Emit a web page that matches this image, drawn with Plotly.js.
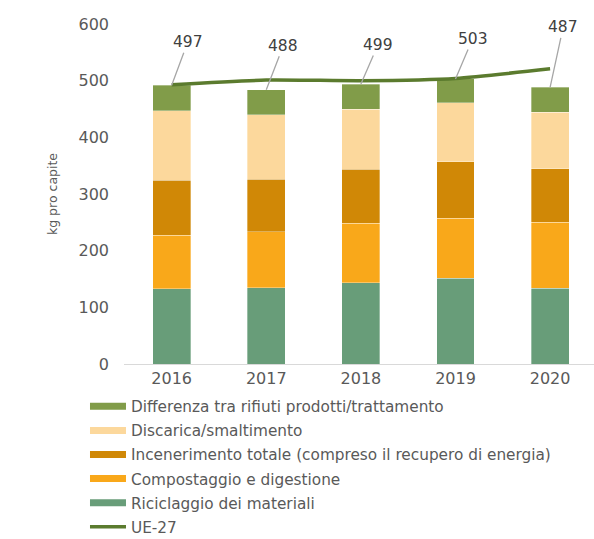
<!DOCTYPE html>
<html>
<head>
<meta charset="utf-8">
<script src="https://cdn.plot.ly/plotly-3.0.1.min.js"></script>
<style>html,body{margin:0;padding:0;background:#fff;}#chart{width:594px;height:539px;}</style>
</head>
<body>
<div id="chart"></div>
<script>
// ---- data ----
const years = ["2016", "2017", "2018", "2019", "2020"];
const riciclaggio = [133, 135, 143, 151, 134];
const compostaggio = [94, 98, 105, 106, 116];
const incenerimento = [97, 93, 96, 100, 95];
const discarica = [123, 114, 106, 104, 99];
const differenza = [45, 44, 44, 42, 44];
const ue27 = [493, 501, 500, 504, 521];
const totalLabels = [497, 488, 499, 503, 487];
const seriesNames = [
  "Differenza tra rifiuti prodotti/trattamento",
  "Discarica/smaltimento",
  "Incenerimento totale (compreso il recupero di energia)",
  "Compostaggio e digestione",
  "Riciclaggio dei materiali",
  "UE-27"
];

// ---- styles ----
const colors = {
  ric: "#689D79", comp: "#F9A81A", inc: "#D08806", dis: "#FCD89C", diff: "#819C49", ue: "#5B7B2E"
};
const textGrey = "#595959";
const fontFam = "DejaVu Sans, sans-serif";
const labelOffsets = [[16, -43], [17, -44], [17, -39], [17, -40], [13, -60]];

function barTrace(name, vals, color) {
  return {
    type: "bar", x: years, y: vals, name: name, showlegend: false,
    marker: {color: color, line: {color: "rgba(255,255,255,0.55)", width: 0.6}},
    width: 0.4, hoverinfo: "x+y+name"
  };
}
function legendTrace(name, color, w, grp) {
  return {
    type: "scatter", mode: "lines", x: [years[0], years[0]], y: [null, null], name: name, legendgroup: grp,
    line: {color: color, width: w}, showlegend: true, hoverinfo: "skip"
  };
}

const data = [
  barTrace(seriesNames[4], riciclaggio, colors.ric),
  barTrace(seriesNames[3], compostaggio, colors.comp),
  barTrace(seriesNames[2], incenerimento, colors.inc),
  barTrace(seriesNames[1], discarica, colors.dis),
  barTrace(seriesNames[0], differenza, colors.diff),
  legendTrace(seriesNames[0], colors.diff, 7, "g1"),
  legendTrace(seriesNames[1], colors.dis, 7, "g2"),
  legendTrace(seriesNames[2], colors.inc, 7, "g3"),
  legendTrace(seriesNames[3], colors.comp, 7, "g4"),
  legendTrace(seriesNames[4], colors.ric, 7, "g5"),
  {
    type: "scatter", mode: "lines", x: years, y: ue27, name: seriesNames[5], legendgroup: "g6",
    line: {color: colors.ue, width: 3.5, shape: "spline", smoothing: 0.6}, showlegend: true
  }
];

const totals = years.map((_, i) => riciclaggio[i] + compostaggio[i] + incenerimento[i] + discarica[i] + differenza[i]);
const annotations = years.map((yr, i) => ({
  x: i, y: totals[i], xref: "x", yref: "y",
  text: String(totalLabels[i]), showarrow: true, arrowhead: 0, arrowwidth: 1.3, arrowcolor: "#A6A6A6",
  ax: labelOffsets[i][0], ay: labelOffsets[i][1],
  font: {family: fontFam, size: 15.5, color: "#404040"}
}));

const layout = {
  width: 594, height: 539,
  margin: {l: 124, r: 0, t: 24, b: 174.5, autoexpand: false},
  paper_bgcolor: "#ffffff", plot_bgcolor: "#ffffff",
  barmode: "stack", showlegend: true,
  font: {family: fontFam, color: textGrey},
  xaxis: {
    type: "category", range: [-0.504, 4.464], showgrid: false, zeroline: false,
    showline: true, linecolor: "#D9D9D9", linewidth: 1, ticks: "",
    tickfont: {family: fontFam, size: 16, color: textGrey}, fixedrange: true
  },
  yaxis: {
    range: [0, 600], tickvals: [0, 100, 200, 300, 400, 500, 600], showgrid: false, zeroline: false,
    showline: false, ticks: "", ticklabelstandoff: 14,
    tickfont: {family: fontFam, size: 16, color: textGrey},
    title: {text: "kg pro capite", font: {family: fontFam, size: 12.5, color: textGrey}, standoff: 18},
    fixedrange: true
  },
  legend: {
    x: -0.083, xanchor: "left", y: -0.076, yanchor: "top",
    traceorder: "grouped", tracegroupgap: 1.2, orientation: "v", maxheight: 1,
    font: {family: fontFam, size: 15.3, color: textGrey}, bgcolor: "rgba(0,0,0,0)", itemwidth: 36
  },
  annotations: annotations
};

Plotly.newPlot("chart", data, layout, {displayModeBar: false, staticPlot: true});
</script>
</body>
</html>
